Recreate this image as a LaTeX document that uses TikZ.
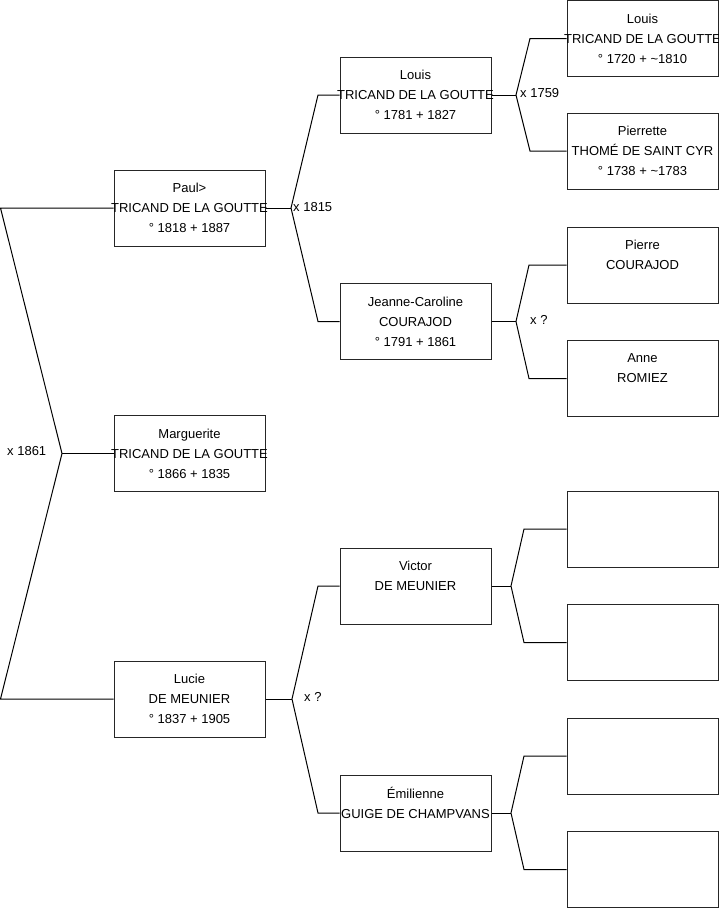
\documentclass[tikz,border=0pt]{standalone}
\usepackage{fontspec}
\setmainfont{Liberation Sans}
\newcommand{\pline}[1]{\makebox[151pt]{#1}}
\begin{document}
\begin{tikzpicture}[x=1pt,y=-1pt,
  person/.style={draw=black!85, line width=1pt, minimum width=151pt, minimum height=76pt,
    inner sep=0pt, align=center, font=\fontsize{13}{20}\selectfont},
  link/.style={draw=black, line width=1pt},
  marr/.style={anchor=west, inner sep=0pt, font=\fontsize{13}{14}\selectfont}]
\useasboundingbox (0,0) rectangle (719,908);
% generation 1
\node[person] (paul) at (189.5,208) {\pline{Paul>}\\\pline{TRICAND DE LA GOUTTE}\\\pline{° 1818 + 1887}};
\node[person] (marg) at (189.5,453.5) {\pline{Marguerite}\\\pline{TRICAND DE LA GOUTTE}\\\pline{° 1866 + 1835}};
\node[person] (lucie) at (189.5,699) {\pline{Lucie}\\\pline{DE MEUNIER}\\\pline{° 1837 + 1905}};
% generation 2
\node[person] (louisB) at (415.5,95) {\pline{Louis}\\\pline{TRICAND DE LA GOUTTE}\\\pline{° 1781 + 1827}};
\node[person] (jeanne) at (415.5,321.5) {\pline{Jeanne-Caroline}\\\pline{COURAJOD}\\\pline{° 1791 + 1861}};
\node[person] (victor) at (415.5,586) {\pline{Victor}\\\pline{DE MEUNIER}\\\phantom{0}};
\node[person] (emil) at (415.5,813) {\pline{Émilienne}\\\pline{GUIGE DE CHAMPVANS}\\\phantom{0}};
% generation 3
\node[person] (louisC) at (642.5,38.5) {\pline{Louis}\\\pline{TRICAND DE LA GOUTTE}\\\pline{° 1720 + \textasciitilde1810}};
\node[person] (pierrette) at (642.5,151) {\pline{Pierrette}\\\pline{THOMÉ DE SAINT CYR}\\\pline{° 1738 + \textasciitilde1783}};
\node[person] (pierre) at (642.5,265) {\pline{Pierre}\\\pline{COURAJOD}\\\phantom{0}};
\node[person] (anne) at (642.5,378.5) {\pline{Anne}\\\pline{ROMIEZ}\\\phantom{0}};
\node[person] (e1) at (642.5,529) {};
\node[person] (e2) at (642.5,642.5) {};
\node[person] (e3) at (642.5,756) {};
\node[person] (e4) at (642.5,869.5) {};
% junction coordinates
\coordinate (c0) at (0.5,208);
\coordinate (j0) at (62,453.5);
\coordinate (c1) at (0.5,699);
\coordinate (j1) at (291,208);
\coordinate (a1) at (318,95);
\coordinate (b1) at (318,321.5);
\coordinate (j2) at (516,95);
\coordinate (a2) at (530,38.5);
\coordinate (b2) at (530,151);
\coordinate (j3) at (516,321.5);
\coordinate (a3) at (529,265);
\coordinate (b3) at (529,378.5);
\coordinate (j4) at (292,699);
\coordinate (a4) at (318,586);
\coordinate (b4) at (318,813);
\coordinate (j5) at (511,586);
\coordinate (a5) at (524,529);
\coordinate (b5) at (524,642.5);
\coordinate (j6) at (511,813);
\coordinate (a6) at (524,756);
\coordinate (b6) at (524,869.5);
% connectors
\draw[link] (paul.west) -- (c0) -- (j0) -- (c1) -- (lucie.west);
\draw[link] (j0) -- (marg.west);
\draw[link] (paul.east) -- (j1);
\draw[link] (louisB.west) -- (a1) -- (j1) -- (b1) -- (jeanne.west);
\draw[link] (louisB.east) -- (j2);
\draw[link] (louisC.west) -- (a2) -- (j2) -- (b2) -- (pierrette.west);
\draw[link] (jeanne.east) -- (j3);
\draw[link] (pierre.west) -- (a3) -- (j3) -- (b3) -- (anne.west);
\draw[link] (lucie.east) -- (j4);
\draw[link] (victor.west) -- (a4) -- (j4) -- (b4) -- (emil.west);
\draw[link] (victor.east) -- (j5);
\draw[link] (e1.west) -- (a5) -- (j5) -- (b5) -- (e2.west);
\draw[link] (emil.east) -- (j6);
\draw[link] (e3.west) -- (a6) -- (j6) -- (b6) -- (e4.west);
% marriage labels
\node[marr] (m0) at (7,451) {x 1861};
\node[marr] (m1) at (293,207) {x 1815};
\node[marr] (m2) at (520,93) {x 1759};
\node[marr] (m3) at (530,320) {x ?};
\node[marr] (m4) at (304,697) {x ?};
\end{tikzpicture}
\end{document}
